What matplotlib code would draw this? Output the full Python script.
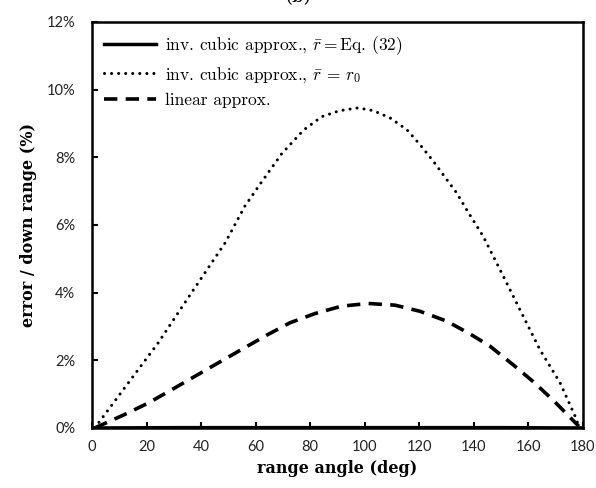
import matplotlib
matplotlib.use('Agg')
from matplotlib import pyplot as plt
from matplotlib.ticker import FuncFormatter

# range angle (deg) and error / down range (%)
angle_cubic_eq = [0, 30, 60, 90, 120, 150, 180]
err_cubic_eq = [0, 0.01, 0.01, 0.01, 0.01, 0.01, 0]

angle_cubic_r0 = [1, 12, 24.3, 36.5, 48.8, 56, 62, 69.5, 77.5, 84.2, 90.9, 97.6,
                  103.1, 109.2, 115.4, 120.2, 125.1, 130, 133.7, 137.3, 143.4,
                  149.6, 156.9, 164.2, 171.6, 177.7, 178.5]
err_cubic_r0 = [0, 1.19, 2.52, 4.0, 5.47, 6.55, 7.25, 8.1, 8.8, 9.2, 9.38, 9.46,
                9.38, 9.17, 8.82, 8.38, 7.89, 7.35, 6.95, 6.46, 5.67,
                4.68, 3.5, 2.32, 1.34, 0.25, 0]

angle_linear = [1, 12, 20.7, 30.5, 46.4, 55.5, 64, 72.6, 81.7, 91.5, 101.3, 111.1,
                120.2, 130, 138.6, 145.9, 155, 162.2, 169.5, 178.5]
err_linear = [0, 0.4, 0.74, 1.19, 1.93, 2.35, 2.74, 3.11, 3.38, 3.60, 3.68, 3.63,
              3.45, 3.16, 2.78, 2.42, 1.83, 1.34, 0.79, 0.05]

x_ticks = list(range(0, 181, 20))
y_ticks = list(range(0, 13, 2))

plt.rcParams['mathtext.fontset'] = 'cm'

fig = plt.figure(figsize=(5.96, 4.88), dpi=100)
ax = fig.add_axes([0.1544, 0.123, 0.8236, 0.832])

ax.plot(angle_cubic_eq, err_cubic_eq, c='black', lw=2.5,
        label=r'inv. cubic approx., $\bar{r} = $Eq. (32)')
ax.plot(angle_cubic_r0, err_cubic_r0, c='black', lw=2.2, dashes=(0.01, 2.3),
        dash_capstyle='round',
        label=r'inv. cubic approx., $\bar{r}$ = $r_0$')
ax.plot(angle_linear, err_linear, c='black', lw=2.6, dashes=(3.7, 2.3),
        label='linear approx.')

ax.set_xlim(0, 180)
ax.set_ylim(0, 12)
ax.set_xticks(x_ticks)
ax.set_yticks(y_ticks)
ax.yaxis.set_major_formatter(FuncFormatter(lambda v, p: f'{v:.0f}%'))
ax.tick_params(direction='in', length=4, width=1.5, labelsize=10.5,
               labelcolor='#222222', pad=12)
ax.tick_params(axis='x', pad=9)
for lab in ax.get_xticklabels() + ax.get_yticklabels():
    lab.set_family('Lato')
for s in ax.spines.values():
    s.set_linewidth(1.8)

ax.set_xlabel('range angle (deg)', family='DejaVu Serif', fontweight='bold',
              fontsize=11.5, labelpad=4)
ax.set_ylabel('error / down range (%)', family='DejaVu Serif', fontweight='bold',
              fontsize=11.5, labelpad=7)

ax.legend(loc='upper left', frameon=False, prop={'family': 'cmr10', 'size': 12.5},
          handlelength=3.0, handletextpad=0.5, labelspacing=0.45,
          borderaxespad=0.3)

fig.text(0.5, 1.005, '(b)', ha='center', va='center', fontsize=13,
         family='DejaVu Serif')

fig.savefig('out.png', dpi=100)
